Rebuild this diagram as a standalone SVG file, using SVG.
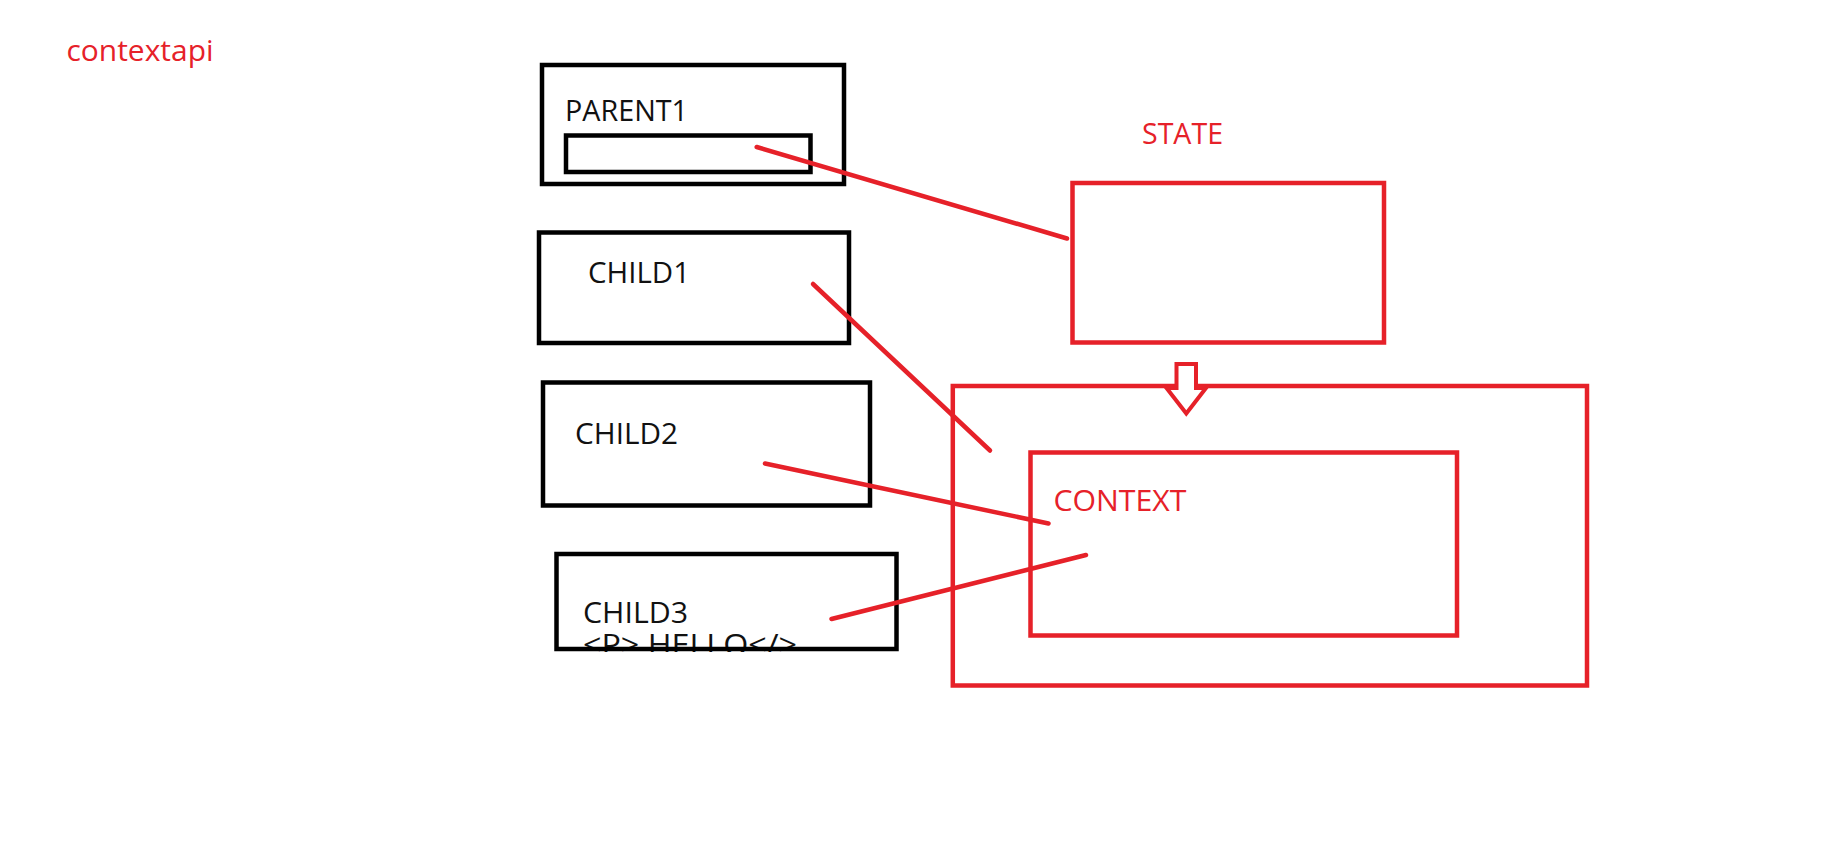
<svg xmlns="http://www.w3.org/2000/svg" width="1831" height="846" viewBox="0 0 1831 846">
  <style>
    .blk { fill: none; stroke: #000000; stroke-width: 4.5; }
    .red { fill: none; stroke: #E62129; stroke-width: 4.5; }
    .ln { fill: none; stroke: #E62129; stroke-width: 4.5; stroke-linecap: round; }
    .tb { font-family: "Open Sans", "Noto Sans", sans-serif; font-size: 29px; fill: #111111; }
    .tr { font-family: "Open Sans", "Noto Sans", sans-serif; font-size: 29px; fill: #E62129; }
  </style>
  <defs>
    <clipPath id="c3clip">
      <rect x="540" y="540" width="380" height="112"/>
    </clipPath>
  </defs>
  <rect x="0" y="0" width="1831" height="846" fill="#ffffff"/>

  <g id="title">
    <text class="tr" x="66.5" y="60.5" textLength="147" lengthAdjust="spacingAndGlyphs">contextapi</text>
  </g>

  <g id="parent1">
    <rect class="blk" x="542" y="65" width="302" height="119"/>
    <rect class="blk" x="566" y="135.5" width="244.5" height="36.5"/>
    <text class="tb" x="565" y="121" textLength="123" lengthAdjust="spacingAndGlyphs">PARENT1</text>
  </g>

  <g id="child1">
    <rect class="blk" x="539" y="232.5" width="310" height="110.5"/>
    <text class="tb" x="588" y="283" textLength="102" lengthAdjust="spacingAndGlyphs">CHILD1</text>
  </g>

  <g id="child2">
    <rect class="blk" x="543" y="382.5" width="327" height="123"/>
    <text class="tb" x="575" y="444" textLength="103" lengthAdjust="spacingAndGlyphs">CHILD2</text>
  </g>

  <g id="child3">
    <text class="tb" x="583" y="622.5" textLength="105" lengthAdjust="spacingAndGlyphs">CHILD3</text>
    <text class="tb" x="583" y="655" textLength="214" lengthAdjust="spacingAndGlyphs" clip-path="url(#c3clip)">&lt;P&gt; HELLO&lt;/&gt;</text>
    <rect class="blk" x="556.5" y="554" width="340" height="95"/>
  </g>

  <g id="state">
    <text class="tr" x="1142" y="144" textLength="81" lengthAdjust="spacingAndGlyphs">STATE</text>
    <rect class="red" x="1072.5" y="183" width="311.5" height="159.5"/>
  </g>

  <g id="context">
    <rect class="red" x="952.8" y="386" width="634.2" height="299.5"/>
    <rect class="red" x="1030.5" y="452.5" width="426.5" height="183"/>
    <text class="tr" x="1053.5" y="510.5" textLength="133" lengthAdjust="spacingAndGlyphs">CONTEXT</text>
  </g>

  <g id="connectors">
    <line class="ln" x1="756.7" y1="147" x2="1067" y2="238.5"/>
    <line class="ln" x1="813" y1="284" x2="990" y2="450.5"/>
    <line class="ln" x1="765" y1="463.5" x2="1048.5" y2="523.5"/>
    <line class="ln" x1="831.5" y1="619" x2="1086" y2="555"/>
    <path id="state-to-context-arrow" d="M1176.5,364 L1196,364 L1196,388 L1206,388 L1186.3,413.5 L1166.5,388 L1176.5,388 Z" fill="#ffffff" stroke="#E62129" stroke-width="4" stroke-linejoin="miter"/>
  </g>
</svg>
